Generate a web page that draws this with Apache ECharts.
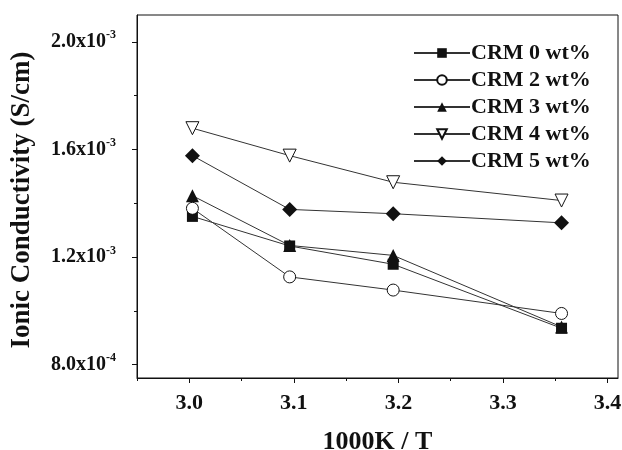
<!DOCTYPE html>
<html>
<head>
<meta charset="utf-8">
<script src="https://cdn.jsdelivr.net/npm/echarts@6/dist/echarts.min.js"></script>
<style>
  html, body { margin: 0; padding: 0; background: #fff; }
  #chart { width: 622px; height: 450px; }
</style>
</head>
<body>
<div id="chart"></div>
<script>
// 1000K / T values of the measured temperatures
const xValues = [3.003, 3.096, 3.195, 3.356]

const crm0 = [1.351e-3, 1.241e-3, 1.173e-3, 0.935e-3]
const crm2 = [1.381e-3, 1.126e-3, 1.077e-3, 0.990e-3]
const crm3 = [1.428e-3, 1.243e-3, 1.206e-3, 0.940e-3]
const crm4 = [1.679e-3, 1.577e-3, 1.478e-3, 1.410e-3]
const crm5 = [1.577e-3, 1.377e-3, 1.361e-3, 1.327e-3]

const seriesNames = ['CRM 0 wt%', 'CRM 2 wt%', 'CRM 3 wt%', 'CRM 4 wt%', 'CRM 5 wt%']

const xTickLabels = [3.0, 3.1, 3.2, 3.3, 3.4]
const xMinorTicks = [2.95, 3.05, 3.15, 3.25, 3.35]
const yTickLabels = [0.8e-3, 1.2e-3, 1.6e-3, 2.0e-3]
const yMinorTicks = [1.0e-3, 1.4e-3, 1.8e-3]

const FONT = "'Liberation Serif', 'Times New Roman', serif"
const INK = '#111'

const chart = echarts.init(document.getElementById('chart'))

function pairs(ys) {
  return xValues.map((x, i) => [x, ys[i]])
}

function sciLabel(v) {
  const e = Math.floor(Math.log10(v) + 1e-9)
  const m = v / Math.pow(10, e)
  return '{m|' + m.toFixed(1) + 'x10}{s|' + e + '}'
}

const downTriangle = 'path://M0,0 L10,0 L5,9 Z'

function makeSeries(name, ys, symbol, size, filled) {
  return {
    name: name,
    type: 'line',
    data: pairs(ys),
    symbol: symbol,
    symbolSize: size,
    showAllSymbol: true,
    lineStyle: { color: '#333', width: 1 },
    itemStyle: {
      color: filled ? INK : '#fff',
      borderColor: INK,
      borderWidth: filled ? 0 : 1
    },
    emphasis: { disabled: true },
    z: 3
  }
}

chart.setOption({
  animation: false,
  textStyle: { fontFamily: FONT },
  grid: {
    left: 137, right: 4, top: 15, bottom: 72,
    outerBoundsMode: 'none',
    containLabel: false,
    show: true, borderColor: INK, borderWidth: 1
  },
  legend: {
    orient: 'vertical',
    left: 408,
    top: 37,
    itemWidth: 56,
    itemHeight: 12,
    itemGap: 5,
    data: seriesNames,
    textStyle: { fontFamily: FONT, fontWeight: 'bold', fontSize: 22, color: INK, padding: [0, 0, 0, -4] }
  },
  xAxis: [
    {
      type: 'value',
      min: 2.95,
      max: 3.41,
      name: '1000K / T',
      nameLocation: 'middle',
      nameGap: 51,
      nameTextStyle: { fontFamily: FONT, fontWeight: 'bold', fontSize: 26, color: INK },
      axisLine: { lineStyle: { color: INK, width: 1 } },
      axisTick: { customValues: xTickLabels, length: 5, inside: false, lineStyle: { color: INK } },
      axisLabel: {
        customValues: xTickLabels,
        margin: 14,
        fontFamily: FONT, fontWeight: 'bold', fontSize: 22, color: INK,
        formatter: v => v.toFixed(1)
      },
      splitLine: { show: false }
    },
    {
      type: 'value',
      min: 2.95,
      max: 3.41,
      position: 'bottom',
      axisLine: { show: false },
      axisTick: { customValues: xMinorTicks, length: 3, lineStyle: { color: INK } },
      axisLabel: { show: false },
      splitLine: { show: false }
    }
  ],
  yAxis: [
    {
      type: 'value',
      min: 0.75e-3,
      max: 2.1e-3,
      name: 'Ionic Conductivity (S/cm)',
      nameLocation: 'middle',
      nameGap: 101,
      nameTextStyle: { fontFamily: FONT, fontWeight: 'bold', fontSize: 27, color: INK, padding: [0, 7, 0, 0] },
      axisLine: { show: true, lineStyle: { color: INK, width: 1 } },
      axisTick: { show: true, customValues: yTickLabels, length: 5, lineStyle: { color: INK } },
      axisLabel: {
        customValues: yTickLabels,
        margin: 21,
        formatter: sciLabel,
        rich: {
          m: { fontFamily: FONT, fontWeight: 'bold', fontSize: 20, color: INK },
          s: { fontFamily: FONT, fontWeight: 'bold', fontSize: 12, color: INK, padding: [0, 0, 13, 0] }
        }
      },
      splitLine: { show: false }
    },
    {
      type: 'value',
      min: 0.75e-3,
      max: 2.1e-3,
      position: 'left',
      axisLine: { show: false },
      axisTick: { show: true, customValues: yMinorTicks, length: 3, lineStyle: { color: INK } },
      axisLabel: { show: false },
      splitLine: { show: false }
    }
  ],
  series: [
    makeSeries(seriesNames[0], crm0, 'rect', 11, true),
    makeSeries(seriesNames[1], crm2, 'circle', 12, false),
    makeSeries(seriesNames[2], crm3, 'triangle', 13, true),
    makeSeries(seriesNames[3], crm4, downTriangle, 13, false),
    makeSeries(seriesNames[4], crm5, 'diamond', 15, true)
  ]
})

window.addEventListener('resize', () => chart.resize())
</script>
</body>
</html>
